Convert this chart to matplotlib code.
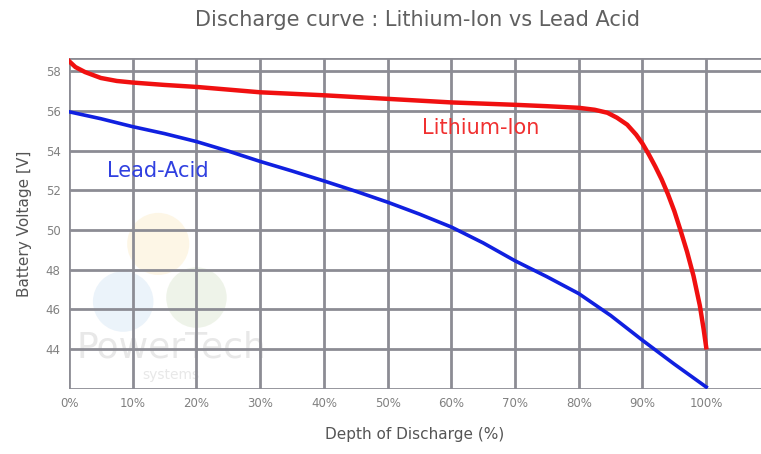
import matplotlib.pyplot as plt

# depth of discharge (%) and voltage
li_dod = [0, 1, 2.5, 5, 7.5, 10, 15, 20, 30, 40, 50, 60, 70, 75, 80, 82.5, 84.5, 86, 87.6,
          89, 90, 91, 92, 93, 94, 95, 96, 97, 98, 99, 99.6, 100]
li_volt = [58.5, 58.2, 57.95, 57.65, 57.5, 57.42, 57.3, 57.2, 56.93, 56.78, 56.6, 56.42, 56.3, 56.23, 56.15, 56.05, 55.9, 55.65, 55.3,
           54.8, 54.35, 53.8, 53.2, 52.55, 51.8, 50.95, 49.95, 48.9, 47.7, 46.2, 45.0, 44.1]

pb_dod = [0, 5, 10, 15, 20, 25, 30, 35, 40, 45, 50, 55, 60, 65, 70, 75, 80, 85, 90, 95, 100]
pb_volt = [55.95, 55.6, 55.2, 54.85, 54.45, 53.97, 53.45, 52.97, 52.47, 51.95, 51.4, 50.8, 50.15, 49.35, 48.45,
           47.65, 46.8, 45.7, 44.45, 43.25, 42.1]

x_ticks = [0, 10, 20, 30, 40, 50, 60, 70, 80, 90, 100]
x_labels = ["0%", "10%", "20%", "30%", "40%", "50%", "60%", "70%", "80%", "90%", "100%"]
y_ticks = [44, 46, 48, 50, 52, 54, 56, 58]

fig = plt.figure(figsize=(7.61, 4.54), dpi=100)
ax = fig.add_axes([0.0907, 0.1432, 0.9093, 0.7288])
ax.set_xlim(0, 108.6)
ax.set_ylim(42, 58.65)

grid_color = '#8c8c94'
for x in x_ticks:
    ax.axvline(x, color=grid_color, lw=2, zorder=1)
for y in [42] + y_ticks + [58.65]:
    ax.axhline(y, color=grid_color, lw=2, zorder=1)
for s in ax.spines.values():
    s.set_visible(False)

# faint watermark
ax.scatter([14, 8.5, 20], [49.3, 46.4, 46.6], s=[2000, 1900, 1900],
           color=['#fdf3dc', '#e3eef8', '#e8efe0'], alpha=0.7, lw=0, zorder=0)
ax.text(16, 44.1, "PowerTech", fontsize=26, color='#e8e8e8', ha='center', va='center', zorder=0)
ax.text(16, 42.7, "systems", fontsize=10, color='#e8e8e8', ha='center', va='center', zorder=0)

ax.plot(li_dod, li_volt, color='#f01010', lw=3.2, zorder=3, solid_joinstyle='round')
ax.plot(pb_dod, pb_volt, color='#1020e0', lw=2.6, zorder=3, solid_joinstyle='round')

ax.text(55.4, 55.15, "Lithium-Ion", color='#f03030', fontsize=15, va='center', ha='left')
ax.text(5.9, 52.95, "Lead-Acid", color='#3040e0', fontsize=15, va='center', ha='left')

ax.set_xticks(x_ticks)
ax.set_xticklabels(x_labels)
ax.set_yticks(y_ticks)
ax.tick_params(length=0, colors='#808080', labelsize=8.5, pad=6)

ax.set_xlabel("Depth of Discharge (%)", fontsize=11, color='#555555', labelpad=12)
ax.set_ylabel("Battery Voltage [V]", fontsize=11, color='#555555', labelpad=10)
fig.text(0.548, 0.955, "Discharge curve : Lithium-Ion vs Lead Acid", fontsize=15,
         color='#606060', ha='center', va='center')

fig.savefig("out.png", dpi=100)
